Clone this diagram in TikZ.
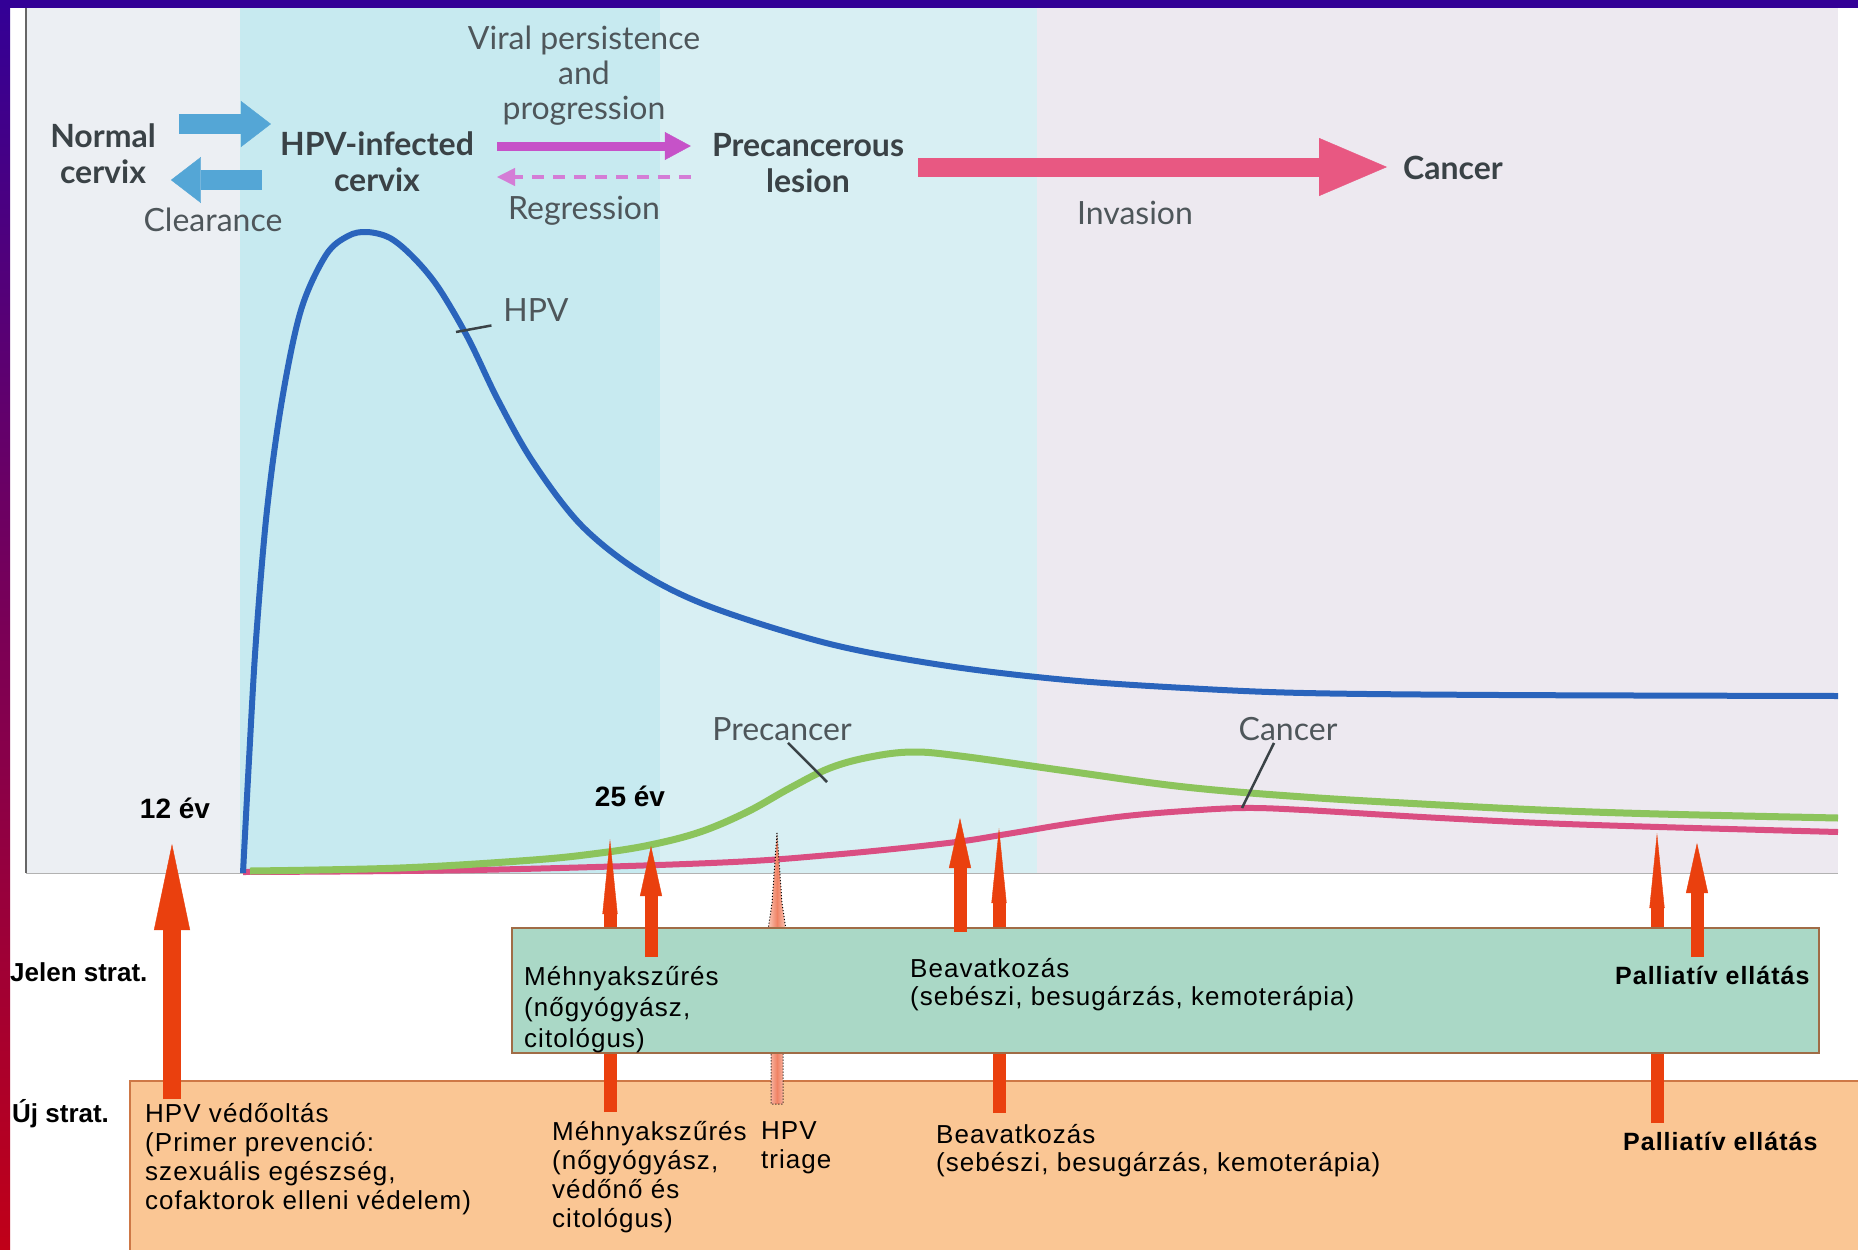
\documentclass[tikz,border=0pt]{standalone}
\usepackage{fontspec}
\setmainfont{Liberation Sans}
\newfontfamily\chartfont{Lato}
\newfontfamily\stratfont{Liberation Sans}[LetterSpace=4]
\usetikzlibrary{arrows.meta,positioning}

\definecolor{framepurple}{RGB}{51,0,150}
\definecolor{framered}{RGB}{192,0,24}
\definecolor{bggray}{RGB}{236,239,243}
\definecolor{bgcyan}{RGB}{199,234,240}
\definecolor{bgcyanlight}{RGB}{216,239,243}
\definecolor{bgpink}{RGB}{237,233,240}
\definecolor{inkgray}{RGB}{58,66,70}
\definecolor{notegray}{RGB}{78,86,90}
\definecolor{hpvblue}{RGB}{42,100,188}
\definecolor{precgreen}{RGB}{140,196,92}
\definecolor{cancpink}{RGB}{218,78,130}
\definecolor{arrblue}{RGB}{84,166,214}
\definecolor{arrmagenta}{RGB}{198,82,200}
\definecolor{arrpink}{RGB}{232,88,130}
\definecolor{redarrow}{RGB}{234,64,14}
\definecolor{triagesalmon}{RGB}{240,130,100}
\definecolor{triagelight}{RGB}{250,200,185}
\definecolor{jelenfill}{RGB}{170,216,198}
\definecolor{jelenline}{RGB}{160,108,70}
\definecolor{ujfill}{RGB}{250,198,148}
\definecolor{ujline}{RGB}{206,120,70}

\begin{document}
\begin{tikzpicture}[x=1pt,y=-1pt,
stage/.style={font=\chartfont\bfseries\fontsize{32}{36}\selectfont,text=inkgray,align=center,inner sep=2pt},
note/.style={font=\chartfont\fontsize{32}{35}\selectfont,text=notegray,align=center,inner sep=2pt},
age/.style={font=\bfseries\fontsize{28}{30}\selectfont,inner sep=2pt},
strat/.style={font=\bfseries\fontsize{26}{30}\selectfont,anchor=west,inner sep=0pt},
boxtext/.style={font=\stratfont\fontsize{26}{29}\selectfont,align=left,anchor=north west,inner sep=0pt},
boldtext/.style={boxtext,font=\stratfont\bfseries\fontsize{25}{30}\selectfont},
leader/.style={draw=inkgray,line width=2.5pt},
bluearrow/.style={draw=arrblue,line width=20pt,-{Triangle[length=30pt,width=46pt,line width=0.4pt]}},
progarrow/.style={draw=arrmagenta,line width=9pt,-{Triangle[length=26pt,width=28pt,line width=0.4pt]}},
regrarrow/.style={draw=arrmagenta!75,line width=4pt,dash pattern=on 12pt off 9pt,-{Triangle[length=18pt,width=18pt,line width=0.4pt]}},
invarrow/.style={draw=arrpink,line width=19pt,-{Triangle[length=68pt,width=58pt,line width=0.4pt]}},
spikearrow/.style={draw=redarrow,line width=13pt,-{Triangle[length=75pt,width=15pt,line width=0.4pt]}},
headarrow/.style={draw=redarrow,line width=13pt,-{Triangle[length=50pt,width=22pt,line width=0.4pt]}},
vaccarrow/.style={draw=redarrow,line width=18pt,-{Triangle[length=86pt,width=36pt,line width=0.4pt]}}]
    \useasboundingbox (0,0) rectangle (1858,1250);

    % Frame of the slide
    \fill[white] (0,0) rectangle (1858,1250);
    \shade[top color=framepurple,bottom color=framered] (0,0) rectangle (10,1250);
    \fill[framepurple] (0,0) rectangle (1858,8);

    % Chart background bands
    \fill[bggray] (26,8) rectangle (240,873);
    \fill[bgcyan] (240,8) rectangle (660,873);
    \fill[bgcyanlight] (660,8) rectangle (1037,873);
    \fill[bgpink] (1037,8) rectangle (1838,873);
    \draw[gray!80!black,line width=2pt] (26,8) -- (26,873);
    \draw[gray!60,line width=1pt] (26,873) -- (1838,873);

    % Stages of the infection
    \node[stage] (normal) at (103,154) {Normal\\cervix};
    \node[stage] (hpvinf) at (377,162) {HPV-infected\\cervix};
    \node[stage] (precles) at (808,163) {Precancerous\\lesion};
    \node[stage] (cancer) at (1453,168) {Cancer};
    \node[note] (viral) at (584,76) {Viral persistence\\and\\progression};
    \node[note] (clear) at (213,220) {Clearance};
    \node[note] (regr) at (584,211) {Regression};
    \node[note] (invas) at (1135,213) {Invasion};

    \draw[bluearrow] ([shift={(21,-30)}]normal.east) -- ([shift={(-7,-38)}]hpvinf.west);
    \draw[bluearrow] ([shift={(-16,18)}]hpvinf.west) -- ([shift={(13,26)}]normal.east);
    \draw[progarrow] ([shift={(21,-16)}]hpvinf.east) -- ([shift={(-19,-17)}]precles.west);
    \draw[regrarrow] ([shift={(-19,14)}]precles.west) -- ([shift={(21,15)}]hpvinf.east);
    \draw[invarrow] ([shift={(12,4)}]precles.east) -- ([shift={(-14,-1)}]cancer.west);

    % Curves
    \draw[cancpink,line width=6pt] plot[smooth,tension=0.6] coordinates {(243,872) (474,870) (711,863) (830,855) (948,843) (1007,834) (1067,824) (1126,816) (1185,811) (1244,808) (1304,810) (1422,817) (1541,823) (1659,827) (1838,832)};
    \draw[precgreen,line width=7pt] plot[smooth,tension=0.6] coordinates {(250,871) (400,868) (533,860) (600,853) (650,845) (700,832) (747,812) (790,788) (830,768) (870,757) (912,752) (960,756) (1067,771) (1185,787) (1304,797) (1422,804) (1541,810) (1659,814) (1838,818)};
    \draw[hpvblue,line width=6pt] plot[smooth,tension=0.55] coordinates {(243,873) (249,760) (256,640) (267,510) (282,400) (301,310) (326,255) (348,236) (367,232) (390,238) (413,257) (438,287) (468,338) (498,400) (533,462) (581,525) (640,572) (711,607) (830,644) (948,666) (1067,680) (1185,688) (1304,693) (1500,695) (1838,696)};

    \node[note] (hpvlbl) at (536,310) {HPV};
    \node[note] (preclbl) at (782,729) {Precancer};
    \node[note] (canclbl) at (1288,729) {Cancer};
    \coordinate (hpvpt) at (456,332);
    \coordinate (precpt) at (827,782);
    \coordinate (cancpt) at (1242,808);
    \draw[leader,shorten <=10pt] (hpvlbl.south west) -- (hpvpt);
    \draw[leader] ([xshift=6pt]preclbl.south) -- (precpt);
    \draw[leader] ([xshift=-14pt]canclbl.south) -- (cancpt);

    \node[age] (ev12) at (175,808) {12 év};
    \node[age] (ev25) at (630,796) {25 év};

    % Tips of the strategy arrows on the chart
    \coordinate (tip-vacc) at (172,844);
    \coordinate (tip-nscr) at (610,839);
    \coordinate (tip-triage) at (777,833);
    \coordinate (tip-nbeav) at (999,828);
    \coordinate (tip-npall) at (1657,833);
    \coordinate (tip-jscr) at (651,846);
    \coordinate (tip-jbeav) at (960,818);
    \coordinate (tip-jpall) at (1697,843);

    % New strategy
    \draw[ujline,fill=ujfill,line width=1.5pt] (1870,1081) -- (130,1081) -- (130,1262) -- (1870,1262);
    \node[strat] (ujstrat) at (12,1114) {Új strat.};
    \node[boxtext] (vacc) at (145,1103) {HPV védőoltás\\(Primer prevenció:\\szexuális egészség,\\cofaktorok elleni védelem)};
    \node[boxtext] (nscr) at (552,1121) {Méhnyakszűrés\\(nőgyógyász,\\védőnő és\\citológus)};
    \node[boxtext] (triage) at (761,1121) {HPV\\triage};
    \node[boxtext,font=\stratfont\fontsize{26}{28}\selectfont] (nbeav) at (936,1124) {Beavatkozás\\(sebészi, besugárzás, kemoterápia)};
    \node[boldtext] (npall) at (1623,1132) {Palliatív ellátás};

    \draw[vaccarrow] ([shift={(27,-4)}]vacc.north west) -- (tip-vacc);
    \draw[spikearrow] ([shift={(58,-9)}]nscr.north west) -- (tip-nscr);
    \draw[spikearrow] ([shift={(63,-11)}]nbeav.north west) -- (tip-nbeav);
    \draw[spikearrow] ([shift={(34,-9)}]npall.north west) -- (tip-npall);
    \shadedraw[left color=triagelight,right color=triagelight,middle color=triagesalmon,draw=black,dotted,line width=1pt]
        (tip-triage) -- ++(-5,70) -- ++(-4,27) -- ++(0,15) -- ++(3,22) -- ++(0,137) -- ++(12,0)
        -- ++(0,-137) -- ++(3,-22) -- ++(0,-15) -- ++(-4,-27) -- cycle;

    % Present strategy
    \draw[jelenline,fill=jelenfill,line width=1.5pt] (512,928) rectangle (1819,1053);
    \node[strat] (jelenstrat) at (10,972) {Jelen strat.};
    \node[boxtext,font=\stratfont\fontsize{26}{31}\selectfont] (jscr) at (524,966) {Méhnyakszűrés\\(nőgyógyász,\\citológus)};
    \node[boxtext,font=\stratfont\fontsize{26}{28}\selectfont] (jbeav) at (910,958) {Beavatkozás\\(sebészi, besugárzás, kemoterápia)};
    \node[boldtext] (jpall) at (1615,966) {Palliatív ellátás};

    \draw[headarrow] ([shift={(127,-9)}]jscr.north west) -- (tip-jscr);
    \draw[headarrow] ([shift={(50,-26)}]jbeav.north west) -- (tip-jbeav);
    \draw[headarrow] ([shift={(82,-9)}]jpall.north west) -- (tip-jpall);
\end{tikzpicture}
\end{document}
